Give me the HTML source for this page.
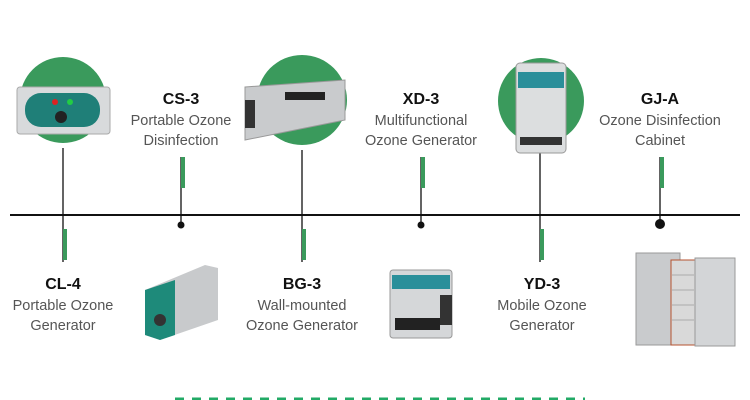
<!DOCTYPE html>
<html><head><style>
body{margin:0;width:750px;height:400px;background:#fff;position:relative;overflow:hidden;font-family:"Liberation Sans",sans-serif}
.a{position:absolute}
.t{position:absolute;text-align:center;width:160px;color:#555;font-size:14.5px;line-height:20px}
.t b{display:block;color:#111;font-size:16px;margin-bottom:1px}
</style></head><body>
<svg class="a" style="left:0;top:0" width="750" height="400">
<circle cx="63" cy="100" r="43" fill="#3a9a5c"/>
<circle cx="302" cy="100" r="45" fill="#3a9a5c"/>
<circle cx="541" cy="101" r="43" fill="#3a9a5c"/>
<line x1="10" y1="215" x2="740" y2="215" stroke="#111" stroke-width="2"/>
<line x1="63" y1="148" x2="63" y2="262" stroke="#111" stroke-width="1.3"/>
<rect x="63" y="229" width="4" height="31" fill="#3a9a5c"/>
<line x1="302" y1="150" x2="302" y2="262" stroke="#111" stroke-width="1.3"/>
<rect x="302" y="229" width="4" height="31" fill="#3a9a5c"/>
<line x1="540" y1="148" x2="540" y2="262" stroke="#111" stroke-width="1.3"/>
<rect x="540" y="229" width="4" height="31" fill="#3a9a5c"/>
<line x1="181" y1="157" x2="181" y2="225" stroke="#111" stroke-width="1.3"/>
<rect x="181" y="157" width="4" height="31" fill="#3a9a5c"/>
<circle cx="181" cy="225" r="3.5" fill="#111"/>
<line x1="421" y1="157" x2="421" y2="225" stroke="#111" stroke-width="1.3"/>
<rect x="421" y="157" width="4" height="31" fill="#3a9a5c"/>
<circle cx="421" cy="225" r="3.5" fill="#111"/>
<line x1="660" y1="157" x2="660" y2="225" stroke="#111" stroke-width="1.3"/>
<rect x="660" y="157" width="4" height="31" fill="#3a9a5c"/>
<circle cx="660" cy="224" r="5" fill="#111"/>
<!-- CL-4 device -->
<rect x="17" y="87" width="93" height="47" rx="3" fill="#d8dadc" stroke="#aaa"/>
<rect x="25" y="93" width="75" height="34" rx="16" fill="#1f7f78"/>
<circle cx="61" cy="117" r="6" fill="#222"/><circle cx="55" cy="102" r="3" fill="#d22"/><circle cx="70" cy="102" r="3" fill="#2c4"/>
<!-- BG-3 device -->
<polygon points="245,87 345,80 345,120 245,140" fill="#c9cbcd" stroke="#999"/>
<rect x="245" y="100" width="10" height="28" fill="#333"/>
<rect x="285" y="92" width="40" height="8" fill="#222"/>
<!-- YD-3 device -->
<rect x="516" y="63" width="50" height="90" rx="4" fill="#dcdedf" stroke="#999"/>
<rect x="518" y="72" width="46" height="16" fill="#2a8f9a"/>
<rect x="520" y="137" width="42" height="8" fill="#333"/>
<!-- CS-3 bottom device -->
<polygon points="145,290 205,265 218,268 218,320 160,340 145,335" fill="#c8cacc"/>
<polygon points="145,290 175,280 175,335 160,340 145,335" fill="#1e8a7a"/>
<circle cx="160" cy="320" r="6" fill="#333"/>
<!-- XD-3 bottom device -->
<rect x="390" y="270" width="62" height="68" rx="3" fill="#d5d7d9" stroke="#999"/>
<rect x="392" y="275" width="58" height="14" fill="#2a8f9a"/>
<rect x="395" y="318" width="45" height="12" fill="#222"/>
<rect x="440" y="295" width="12" height="30" fill="#333"/>
<!-- cabinet -->
<rect x="636" y="253" width="44" height="92" fill="#c9cbcd" stroke="#999"/>
<rect x="671" y="260" width="24" height="85" fill="#d9d9d9" stroke="#b5522f"/>
<polygon points="695,258 735,258 735,346 695,346" fill="#d3d5d7" stroke="#999"/>
<g stroke="#aaa"><line x1="672" y1="275" x2="694" y2="275"/><line x1="672" y1="290" x2="694" y2="290"/><line x1="672" y1="305" x2="694" y2="305"/><line x1="672" y1="320" x2="694" y2="320"/></g>
<line x1="175" y1="399" x2="585" y2="399" stroke="#2a6" stroke-width="3" stroke-dasharray="9,8"/>
</svg>
<div class="t" style="left:101px;top:90px"><b>CS-3</b>Portable Ozone<br>Disinfection</div>
<div class="t" style="left:341px;top:90px"><b>XD-3</b>Multifunctional<br>Ozone Generator</div>
<div class="t" style="left:580px;top:90px"><b>GJ-A</b>Ozone Disinfection<br>Cabinet</div>
<div class="t" style="left:-17px;top:275px"><b>CL-4</b>Portable Ozone<br>Generator</div>
<div class="t" style="left:222px;top:275px"><b>BG-3</b>Wall-mounted<br>Ozone Generator</div>
<div class="t" style="left:462px;top:275px"><b>YD-3</b>Mobile Ozone<br>Generator</div>
</body></html>
